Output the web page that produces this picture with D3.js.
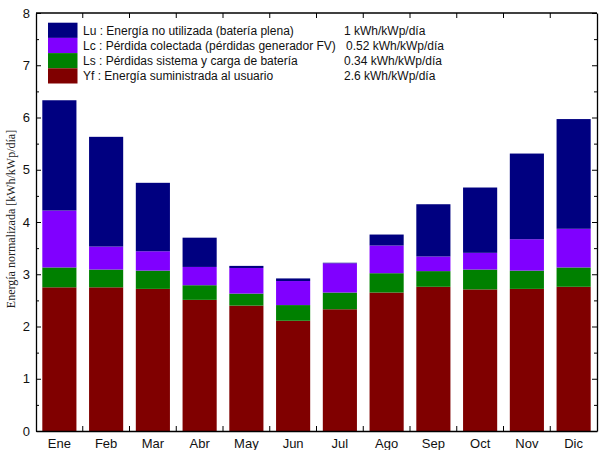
<!DOCTYPE html>
<html><head><meta charset="utf-8">
<script src="https://cdn.jsdelivr.net/npm/d3@7"></script>
<style>body{margin:0;background:#fff}svg{display:block}</style>
</head><body>
<svg id="c" width="599" height="450"></svg>
<script>
const months = ["Ene","Feb","Mar","Abr","May","Jun","Jul","Ago","Sep","Oct","Nov","Dic"];
const Yf = [2.75,2.75,2.72,2.51,2.40,2.11,2.33,2.65,2.76,2.71,2.72,2.76];
const Ls = [0.38,0.34,0.35,0.28,0.23,0.30,0.32,0.37,0.30,0.38,0.35,0.37];
const Lc = [1.09,0.44,0.37,0.35,0.49,0.46,0.56,0.53,0.28,0.32,0.60,0.74];
const Lu = [2.11,2.10,1.31,0.56,0.04,0.05,0.01,0.21,1.00,1.25,1.64,2.10];
const seriesKeys = ["Yf","Ls","Lc","Lu"];
const seriesColors = {Yf:"#800000", Ls:"#008000", Lc:"#8000ff", Lu:"#000080"};
const legendKeys = ["Lu","Lc","Ls","Yf"];
const legendLabels = ["Lu : Energía no utilizada (batería plena)",
  "Lc : Pérdida colectada (pérdidas generador FV)",
  "Ls : Pérdidas sistema y carga de batería",
  "Yf : Energía suministrada al usuario"];
const legendValues = ["1 kWh/kWp/día","0.52 kWh/kWp/día","0.34 kWh/kWp/día","2.6 kWh/kWp/día"];
const yTicks = [0,1,2,3,4,5,6,7,8];
const yMinor = [0.5,1.5,2.5,3.5,4.5,5.5,6.5,7.5];
const yLabel = "Energía normalizada [kWh/kWp/día]";

const svg = d3.select("#c");
const L=36, R=597, T=13, B=431;
const x = d3.scaleBand().domain(months).range([L,R]).paddingInner(0.27).paddingOuter(0.135);
const y = d3.scaleLinear().domain([0,8]).range([B,T]);

const table = months.map((m,i)=>({m, Yf:Yf[i], Ls:Ls[i], Lc:Lc[i], Lu:Lu[i]}));
const stack = d3.stack().keys(seriesKeys)(table);

svg.append("g").selectAll("g").data(stack).join("g")
  .attr("fill", d=>seriesColors[d.key])
  .selectAll("rect").data(d=>d).join("rect")
  .attr("x", d=>x(d.data.m)).attr("width", x.bandwidth())
  .attr("y", d=>y(d[1])).attr("height", d=>Math.max(0, y(d[0])-y(d[1])));

const font = "'Liberation Sans', Arial, Helvetica, sans-serif";
// Left axis
const gl = svg.append("g").attr("transform",`translate(${L},0)`)
  .call(d3.axisLeft(y).tickValues(yTicks).tickSizeInner(-5).tickSizeOuter(0).tickPadding(6).tickFormat(d3.format("d")));
gl.selectAll("text").attr("font-family",font).attr("font-size",13).attr("fill","#111");
svg.append("g").attr("transform",`translate(${L},0)`)
  .call(d3.axisLeft(y).tickValues(yMinor).tickSize(-3).tickFormat("")).select(".domain").remove();
// Right axis
svg.append("g").attr("transform",`translate(${R},0)`)
  .call(d3.axisRight(y).tickValues(yTicks).tickSizeInner(-5).tickSizeOuter(0).tickFormat(""));
svg.append("g").attr("transform",`translate(${R},0)`)
  .call(d3.axisRight(y).tickValues(yMinor).tickSize(-3).tickFormat("")).select(".domain").remove();
// Bottom axis (labels) and boundary ticks
const gb = svg.append("g").attr("transform",`translate(0,${B})`)
  .call(d3.axisBottom(x).tickSize(0).tickSizeOuter(0).tickPadding(8));
gb.selectAll("text").attr("font-family",font).attr("font-size",13).attr("fill","#111");
const step = x.step();
const bounds = months.slice(1).map(m => x(m) - x.paddingInner()*step/2);
svg.append("g").selectAll("line").data(bounds).join("line")
  .attr("x1",d=>d).attr("x2",d=>d).attr("y1",B).attr("y2",B-5).attr("stroke","#000");
// Top axis
svg.append("line").attr("x1",L).attr("x2",R).attr("y1",T).attr("y2",T).attr("stroke","#000").attr("stroke-width",1.3);
svg.append("g").selectAll("line").data(bounds).join("line")
  .attr("x1",d=>d).attr("x2",d=>d).attr("y1",T).attr("y2",T+5).attr("stroke","#000");
svg.selectAll(".domain").attr("stroke-width",1.3);

// Y label
svg.append("text").attr("transform",`translate(15,${(B+T)/2 - 3}) rotate(-90)`)
  .attr("text-anchor","middle").attr("font-family","'Liberation Serif', 'Times New Roman', serif")
  .attr("font-size",12).attr("fill","#222").text(yLabel);

// Legend
const lg = svg.append("g");
const rowH = 15.2, ly0 = 22.7;
legendKeys.forEach((k,i)=>{
  lg.append("rect").attr("x",48).attr("y",ly0+i*rowH).attr("width",29.5).attr("height",rowH)
    .attr("fill",seriesColors[k]);
  lg.append("text").attr("x",83).attr("y",ly0+i*rowH+rowH/2).attr("dy","0.36em")
    .attr("font-family",font).attr("font-size",12).attr("fill","#111").text(legendLabels[i]);
  lg.append("text").attr("x", i===1?346:344).attr("y",ly0+i*rowH+rowH/2).attr("dy","0.36em")
    .attr("font-family",font).attr("font-size",12).attr("fill","#111").text(legendValues[i]);
});
</script>
</body></html>
